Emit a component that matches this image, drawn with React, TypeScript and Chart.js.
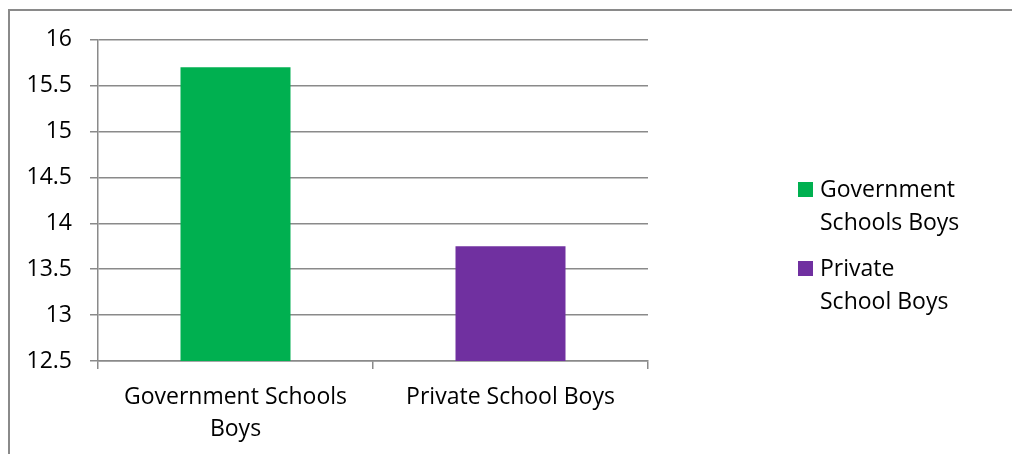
import React, { useEffect, useRef } from "react";
import { Chart, registerables } from "chart.js";

Chart.register(...registerables);

const categories: string[][] = [["Government Schools", "Boys"], ["Private School Boys"]];
const values: number[] = [15.7, 13.75];
const barColors: string[] = ["#00B050", "#7030A0"];
const legendLabels: string[][] = [["Government", "Schools Boys"], ["Private", "School Boys"]];
const yMin = 12.5;
const yMax = 16;
const yStep = 0.5;

const FONT = "'Open Sans', sans-serif";
const GRID = "#8a8a8a";

export default function App() {
  const ref = useRef<HTMLCanvasElement | null>(null);
  useEffect(() => {
    document.documentElement.style.overflow = "hidden";
    document.body.style.overflow = "hidden";
    if (!ref.current) return;
    const legendPlugin = {
      id: "customLegend",
      afterDraw(chart: any) {
        const ctx = chart.ctx;
        ctx.save();
        ctx.font = `23px ${FONT}`;
        ctx.textBaseline = "middle";
        ctx.textAlign = "left";
        const starts = [174, 253];
        legendLabels.forEach((lines, i) => {
          const y0 = starts[i];
          ctx.fillStyle = barColors[i];
          ctx.fillRect(790, y0, 15, 15);
          ctx.fillStyle = "#000";
          lines.forEach((t, j) => ctx.fillText(t, 812, y0 + 8 + j * 33));
        });
        ctx.restore();
      },
    };
    const chart = new Chart(ref.current, {
      type: "bar",
      data: {
        labels: categories as any,
        datasets: [
          {
            data: values,
            backgroundColor: barColors,
            borderWidth: 0,
            barPercentage: 0.4,
            categoryPercentage: 1,
          },
        ],
      },
      options: {
        responsive: false,
        animation: false,
        layout: { padding: { left: 0, top: 30, right: 356, bottom: 0 } },
        plugins: { legend: { display: false }, tooltip: { enabled: false } },
        scales: {
          x: {
            offset: true,
            afterFit: (s: any) => { s.height = 85; },
            grid: { display: true, drawOnChartArea: false, drawTicks: true, tickLength: 8, color: GRID, lineWidth: 1.5, offset: true },
            border: { display: true, color: GRID, width: 1.5 },
            ticks: { color: "#000", font: { family: FONT, size: 23, lineHeight: 1.4 }, padding: 12, maxRotation: 0, autoSkip: false },
          },
          y: {
            min: yMin,
            max: yMax,
            afterFit: (s: any) => { s.width = 90; },
            grid: { color: GRID, lineWidth: 1.5, tickLength: 8, drawTicks: true },
            border: { display: true, color: GRID, width: 1.5 },
            ticks: {
              stepSize: yStep,
              color: "#000",
              font: { family: FONT, size: 23 },
              padding: 18,
              callback: (v: any) => String(Number(v)),
            },
          },
        },
      },
      plugins: [legendPlugin],
    });
    return () => chart.destroy();
  }, []);
  return (
    <div>
      <div style={{ position: "fixed", left: 8, top: 9, width: 1400, height: 1000, border: "2px solid #8a8a8a", boxSizing: "border-box" }} />
      <canvas ref={ref} width={996} height={438} style={{ position: "fixed", left: 8, top: 8 }} />
    </div>
  );
}
